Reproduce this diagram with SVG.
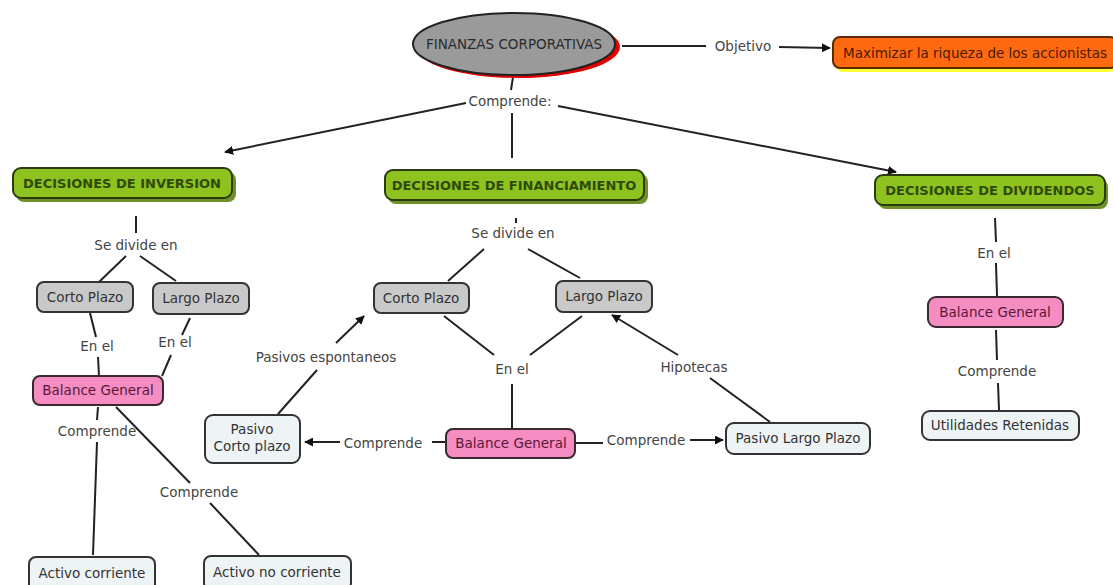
<svg xmlns="http://www.w3.org/2000/svg" width="1113" height="585" viewBox="0 0 1113 585">
<defs>
<marker id="arr" viewBox="0 0 10 10" refX="9" refY="5" markerWidth="9" markerHeight="9" markerUnits="userSpaceOnUse" orient="auto">
<path d="M0,0 L10,5 L0,10 z" fill="#111"/>
</marker>
<style>
text{font-family:"DejaVu Sans",Verdana,sans-serif;font-size:13.5px;text-anchor:middle;dominant-baseline:central}
.lk{fill:#444}
.edge{stroke:#222;stroke-width:2;fill:none}
.arrow{stroke:#222;stroke-width:2;fill:none;marker-end:url(#arr)}
.green{fill:#8dc21f;stroke:#2b3a10;stroke-width:2}
.gsh{fill:#6f8f2a}
.gt{fill:#2f4a08;font-size:13px;font-weight:bold}
.grey{fill:#c9c9c9;stroke:#333;stroke-width:2}
.pink{fill:#f58cc2;stroke:#3a2a30;stroke-width:2}
.light{fill:#eef3f6;stroke:#333;stroke-width:2}
.nt{fill:#333}
.pt{fill:#5a1838}
</style>
</defs>
<rect width="1113" height="585" fill="#fff"/>

<g id="connectors">
<line class="edge" x1="622" y1="46" x2="706" y2="46"/>
<line class="arrow" x1="779" y1="47" x2="830" y2="48"/>
<line class="edge" x1="513" y1="77" x2="511" y2="90"/>
<line class="arrow" x1="466" y1="103" x2="225" y2="152"/>
<line class="arrow" x1="558" y1="106" x2="896" y2="172"/>
<line class="edge" x1="512" y1="113" x2="512" y2="158"/>

<line class="edge" x1="136" y1="216" x2="136" y2="233"/>
<line class="edge" x1="126" y1="256" x2="99" y2="282"/>
<line class="edge" x1="140" y1="256" x2="176" y2="281"/>
<line class="edge" x1="90" y1="313" x2="96" y2="337"/>
<line class="edge" x1="98" y1="357" x2="99" y2="376"/>
<line class="edge" x1="190" y1="318" x2="182" y2="335"/>
<line class="edge" x1="171" y1="355" x2="162" y2="376"/>
<line class="edge" x1="98" y1="407" x2="97" y2="420"/>
<line class="edge" x1="97" y1="442" x2="93" y2="555"/>
<line class="edge" x1="116" y1="407" x2="190" y2="483"/>
<line class="edge" x1="210" y1="503" x2="259" y2="555"/>

<line class="edge" x1="516" y1="218" x2="516" y2="223"/>
<line class="edge" x1="484" y1="249" x2="448" y2="281"/>
<line class="edge" x1="528" y1="249" x2="580" y2="278"/>
<line class="edge" x1="444" y1="316" x2="494" y2="355"/>
<line class="edge" x1="582" y1="316" x2="530" y2="355"/>
<line class="edge" x1="512" y1="384" x2="512" y2="428"/>
<line class="edge" x1="446" y1="442" x2="432" y2="442"/>
<line class="arrow" x1="340" y1="442" x2="305" y2="442"/>
<line class="edge" x1="576" y1="443" x2="603" y2="443"/>
<line class="arrow" x1="690" y1="440" x2="723" y2="440"/>
<line class="edge" x1="770" y1="422" x2="710" y2="378"/>
<line class="arrow" x1="678" y1="355" x2="612" y2="315"/>
<line class="edge" x1="278" y1="414" x2="317" y2="370"/>
<line class="arrow" x1="336" y1="343" x2="364" y2="316"/>

<line class="edge" x1="995" y1="218" x2="996" y2="242"/>
<line class="edge" x1="996" y1="263" x2="997" y2="296"/>
<line class="edge" x1="996" y1="330" x2="997" y2="360"/>
<line class="edge" x1="998" y1="383" x2="999" y2="410"/>
</g>

<g id="labels">
<text class="lk" x="743" y="46">Objetivo</text>
<text class="lk" x="510" y="101">Comprende:</text>
<text class="lk" x="136" y="245">Se divide en</text>
<text class="lk" x="97" y="346">En el</text>
<text class="lk" x="175" y="342">En el</text>
<text class="lk" x="97" y="431">Comprende</text>
<text class="lk" x="199" y="492">Comprende</text>
<text class="lk" x="513" y="233">Se divide en</text>
<text class="lk" x="512" y="369">En el</text>
<text class="lk" x="326" y="357">Pasivos espontaneos</text>
<text class="lk" x="694" y="367">Hipotecas</text>
<text class="lk" x="383" y="443">Comprende</text>
<text class="lk" x="646" y="440">Comprende</text>
<text class="lk" x="994" y="253">En el</text>
<text class="lk" x="997" y="371">Comprende</text>
</g>

<g id="n-finanzas">
<ellipse cx="518" cy="47" rx="102" ry="31" fill="#e00000"/>
<ellipse cx="514" cy="44" rx="101" ry="31" fill="#9a9a9a" stroke="#222" stroke-width="2"/>
<text x="514" y="44" fill="#2a2a2a" font-size="14.5">FINANZAS CORPORATIVAS</text>
</g>

<g id="n-maximizar">
<rect x="836" y="40" width="280" height="32" rx="7" fill="#ffff33"/>
<rect x="833" y="37" width="284" height="31" rx="7" fill="#ff6a10" stroke="#5a2a00" stroke-width="2"/>
<text x="975" y="53" fill="#4a1a00" font-size="13">Maximizar la riqueza de los accionistas</text>
</g>

<g id="n-inversion">
<rect x="16" y="172" width="220" height="30" rx="8" class="gsh"/>
<rect x="13" y="168" width="219" height="30" rx="8" class="green"/>
<text x="122" y="183" class="gt">DECISIONES DE INVERSION</text>
</g>

<g id="n-financiamiento">
<rect x="388" y="174" width="260" height="30" rx="8" class="gsh"/>
<rect x="385" y="170" width="259" height="30" rx="8" class="green"/>
<text x="514" y="185" class="gt">DECISIONES DE FINANCIAMIENTO</text>
</g>

<g id="n-dividendos">
<rect x="878" y="179" width="230" height="30" rx="8" class="gsh"/>
<rect x="875" y="175" width="230" height="30" rx="8" class="green"/>
<text x="990" y="190" class="gt">DECISIONES DE DIVIDENDOS</text>
</g>

<g id="n-corto-inv">
<rect x="37" y="282" width="96" height="30" rx="7" class="grey"/>
<text x="85" y="297" class="nt">Corto Plazo</text>
</g>
<g id="n-largo-inv">
<rect x="153" y="283" width="96" height="31" rx="7" class="grey"/>
<text x="201" y="298" class="nt">Largo Plazo</text>
</g>
<g id="n-balance-inv">
<rect x="33" y="376" width="130" height="29" rx="7" class="pink"/>
<text x="98" y="390" class="pt">Balance General</text>
</g>
<g id="n-activo-corriente">
<rect x="29" y="557" width="126" height="34" rx="7" class="light"/>
<text x="92" y="573" class="nt">Activo corriente</text>
</g>
<g id="n-activo-no-corriente">
<rect x="204" y="556" width="147" height="34" rx="7" class="light"/>
<text x="277" y="572" class="nt">Activo no corriente</text>
</g>

<g id="n-corto-fin">
<rect x="374" y="283" width="95" height="30" rx="7" class="grey"/>
<text x="421" y="298" class="nt">Corto Plazo</text>
</g>
<g id="n-largo-fin">
<rect x="556" y="281" width="96" height="31" rx="7" class="grey"/>
<text x="604" y="296" class="nt">Largo Plazo</text>
</g>
<g id="n-balance-fin">
<rect x="446" y="429" width="129" height="29" rx="7" class="pink"/>
<text x="511" y="443" class="pt">Balance General</text>
</g>
<g id="n-pasivo-corto">
<rect x="205" y="415" width="95" height="48" rx="8" class="light"/>
<text x="252" y="429" class="nt">Pasivo</text>
<text x="252" y="446" class="nt">Corto plazo</text>
</g>
<g id="n-pasivo-largo">
<rect x="726" y="423" width="144" height="31" rx="8" class="light"/>
<text x="798" y="438" class="nt">Pasivo Largo Plazo</text>
</g>

<g id="n-balance-div">
<rect x="928" y="297" width="135" height="30" rx="8" class="pink"/>
<text x="995" y="312" class="pt">Balance  General</text>
</g>
<g id="n-utilidades">
<rect x="922" y="411" width="157" height="29" rx="8" class="light"/>
<text x="1000" y="425" class="nt">Utilidades Retenidas</text>
</g>
</svg>
